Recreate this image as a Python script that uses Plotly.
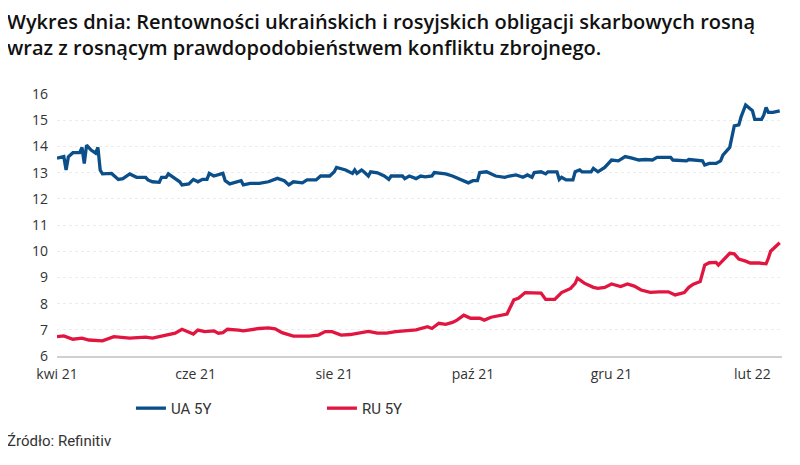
import plotly.graph_objects as go

# ---- data ----
ua_dates = [
    "2021-04-01", "2021-04-04", "2021-04-05", "2021-04-06", "2021-04-08", "2021-04-11",
    "2021-04-12", "2021-04-13", "2021-04-14", "2021-04-16", "2021-04-18", "2021-04-19",
    "2021-04-20", "2021-04-21", "2021-04-25", "2021-04-28", "2021-04-30", "2021-05-03",
    "2021-05-06", "2021-05-10", "2021-05-11", "2021-05-13", "2021-05-16", "2021-05-17",
    "2021-05-19", "2021-05-20", "2021-05-23", "2021-05-25", "2021-05-26", "2021-05-29",
    "2021-05-31", "2021-06-02", "2021-06-04", "2021-06-06", "2021-06-07", "2021-06-09",
    "2021-06-13", "2021-06-14", "2021-06-16", "2021-06-20", "2021-06-21", "2021-06-22",
    "2021-06-25", "2021-06-29", "2021-07-03", "2021-07-07", "2021-07-10", "2021-07-12",
    "2021-07-14", "2021-07-18", "2021-07-20", "2021-07-24", "2021-07-26", "2021-07-30",
    "2021-08-01", "2021-08-02", "2021-08-04", "2021-08-06", "2021-08-09", "2021-08-10",
    "2021-08-11", "2021-08-13", "2021-08-14", "2021-08-16", "2021-08-17", "2021-08-20",
    "2021-08-23", "2021-08-25", "2021-08-26", "2021-08-31", "2021-09-01", "2021-09-03",
    "2021-09-06", "2021-09-08", "2021-09-10", "2021-09-13", "2021-09-14", "2021-09-19",
    "2021-09-22", "2021-09-26", "2021-09-29", "2021-10-01", "2021-10-03", "2021-10-04",
    "2021-10-07", "2021-10-11", "2021-10-15", "2021-10-17", "2021-10-20", "2021-10-23",
    "2021-10-25", "2021-10-27", "2021-10-28", "2021-10-31", "2021-11-02", "2021-11-03",
    "2021-11-07", "2021-11-08", "2021-11-09", "2021-11-11", "2021-11-14", "2021-11-15",
    "2021-11-17", "2021-11-18", "2021-11-22", "2021-11-23", "2021-11-25", "2021-11-28",
    "2021-11-30", "2021-12-01", "2021-12-04", "2021-12-07", "2021-12-10", "2021-12-13",
    "2021-12-16", "2021-12-19", "2021-12-21", "2021-12-27", "2021-12-28", "2022-01-03",
    "2022-01-04", "2022-01-10", "2022-01-11", "2022-01-13", "2022-01-16", "2022-01-18",
    "2022-01-19", "2022-01-22", "2022-01-24", "2022-01-26", "2022-01-27", "2022-01-29",
    "2022-02-01", "2022-02-02", "2022-02-05", "2022-02-06", "2022-02-07", "2022-02-08",
    "2022-02-10", "2022-02-13",
]
ua_5y = [
    13.55, 13.61, 13.10, 13.60, 13.76, 13.76,
    13.96, 13.35, 14.05, 13.86, 13.74, 13.96,
    13.10, 12.95, 12.97, 12.74, 12.77, 12.95,
    12.82, 12.82, 12.72, 12.65, 12.63, 12.82,
    12.82, 12.95, 12.77, 12.65, 12.53, 12.57,
    12.74, 12.65, 12.74, 12.74, 12.97, 12.87,
    12.97, 12.69, 12.57, 12.65, 12.69, 12.53,
    12.59, 12.59, 12.65, 12.78, 12.69, 12.53,
    12.65, 12.61, 12.72, 12.72, 12.87, 12.87,
    13.03, 13.20, 13.16, 13.10, 12.97, 13.10,
    12.97, 13.10, 13.03, 12.87, 13.03, 12.99,
    12.87, 12.74, 12.87, 12.87, 12.77, 12.87,
    12.77, 12.87, 12.84, 12.87, 13.00, 12.95,
    12.87, 12.74, 12.61, 12.69, 12.69, 13.00,
    13.03, 12.87, 12.82, 12.87, 12.91, 12.82,
    12.91, 12.82, 13.00, 13.03, 12.95, 13.03,
    13.03, 12.74, 12.82, 12.72, 12.72, 13.03,
    13.10, 13.03, 13.03, 13.16, 13.03, 13.20,
    13.42, 13.48, 13.45, 13.61, 13.55, 13.48,
    13.50, 13.48, 13.58, 13.58, 13.48, 13.45,
    13.50, 13.45, 13.29, 13.35, 13.35, 13.45,
    13.67, 13.96, 14.78, 14.82, 15.13, 15.58,
    15.36, 15.03, 15.03, 15.20, 15.49, 15.30,
    15.30, 15.36,
]

ru_dates = [
    "2021-04-01", "2021-04-04", "2021-04-08", "2021-04-12", "2021-04-15", "2021-04-21",
    "2021-04-26", "2021-05-03", "2021-05-10", "2021-05-13", "2021-05-18", "2021-05-23",
    "2021-05-26", "2021-05-29", "2021-05-31", "2021-06-02", "2021-06-05", "2021-06-09",
    "2021-06-11", "2021-06-13", "2021-06-15", "2021-06-20", "2021-06-22", "2021-06-29",
    "2021-07-03", "2021-07-06", "2021-07-09", "2021-07-14", "2021-07-21", "2021-07-25",
    "2021-07-28", "2021-07-31", "2021-08-04", "2021-08-08", "2021-08-12", "2021-08-16",
    "2021-08-20", "2021-08-24", "2021-08-28", "2021-08-31", "2021-09-03", "2021-09-06",
    "2021-09-11", "2021-09-13", "2021-09-16", "2021-09-19", "2021-09-22", "2021-09-24",
    "2021-09-27", "2021-09-30", "2021-10-04", "2021-10-06", "2021-10-09", "2021-10-12",
    "2021-10-16", "2021-10-19", "2021-10-21", "2021-10-24", "2021-10-27", "2021-10-31",
    "2021-11-02", "2021-11-06", "2021-11-09", "2021-11-13", "2021-11-15", "2021-11-16",
    "2021-11-19", "2021-11-23", "2021-11-25", "2021-11-28", "2021-12-01", "2021-12-05",
    "2021-12-08", "2021-12-11", "2021-12-14", "2021-12-18", "2021-12-22", "2021-12-26",
    "2021-12-29", "2022-01-02", "2022-01-04", "2022-01-06", "2022-01-09", "2022-01-11",
    "2022-01-13", "2022-01-16", "2022-01-17", "2022-01-20", "2022-01-22", "2022-01-24",
    "2022-01-26", "2022-01-29", "2022-01-31", "2022-02-04", "2022-02-07", "2022-02-08",
    "2022-02-09", "2022-02-13",
]
ru_5y = [
    6.74, 6.77, 6.64, 6.68, 6.61, 6.58,
    6.74, 6.68, 6.72, 6.68, 6.78, 6.87,
    7.02, 6.93, 6.84, 6.99, 6.93, 6.96,
    6.87, 6.89, 7.02, 6.99, 6.96, 7.05,
    7.07, 7.04, 6.89, 6.76, 6.76, 6.80,
    6.93, 6.93, 6.80, 6.82, 6.87, 6.94,
    6.87, 6.87, 6.93, 6.96, 6.96, 7.00,
    7.12, 7.05, 7.25, 7.21, 7.28, 7.37,
    7.56, 7.44, 7.44, 7.37, 7.48, 7.52,
    7.60, 8.14, 8.20, 8.42, 8.42, 8.40,
    8.16, 8.16, 8.42, 8.58, 8.77, 8.97,
    8.78, 8.62, 8.58, 8.62, 8.75, 8.65,
    8.75, 8.67, 8.52, 8.43, 8.45, 8.45,
    8.33, 8.42, 8.62, 8.74, 8.84, 9.47,
    9.56, 9.57, 9.47, 9.73, 9.92, 9.90,
    9.70, 9.62, 9.55, 9.55, 9.52, 9.73,
    10.00, 10.32,
]

tick_dates = ["2021-04-01", "2021-06-01", "2021-08-01", "2021-10-01", "2021-12-01", "2022-02-01"]
tick_labels = ["kwi 21", "cze 21", "sie 21", "paź 21", "gru 21", "lut 22"]
y_ticks = [6, 7, 8, 9, 10, 11, 12, 13, 14, 15, 16]

title_line1 = "Wykres dnia: Rentowności ukraińskich i rosyjskich obligacji skarbowych rosną"
title_line2 = "wraz z rosnącym prawdopodobieństwem konfliktu zbrojnego."
source_text = "Źródło: Refinitiv"

BLUE = "#0b4f8a"
RED = "#e1153f"
FONT = "Open Sans"
NARROW = "Liberation Sans Narrow, Roboto, sans-serif"

fig = go.Figure()
fig.add_trace(go.Scatter(x=ua_dates, y=ua_5y, mode="lines", name="UA 5Y",
                         line=dict(color=BLUE, width=3.3)))
fig.add_trace(go.Scatter(x=ru_dates, y=ru_5y, mode="lines", name="RU 5Y",
                         line=dict(color=RED, width=3.3)))

# the page body adds an 8px offset, so the figure is 8px smaller on each axis
fig.update_layout(
    width=792, height=457,
    margin=dict(l=49, r=18, t=86, b=109, autoexpand=False),
    paper_bgcolor="white", plot_bgcolor="white",
    showlegend=True,
    legend=dict(orientation="h", x=0.102, xanchor="left", y=-0.2, yanchor="middle",
                font=dict(family=NARROW, size=15, color="#333333"),
                entrywidth=146, entrywidthmode="pixels", bgcolor="rgba(0,0,0,0)"),
    xaxis=dict(type="date", range=["2021-04-01", "2022-02-14"],
               tickvals=tick_dates, ticktext=tick_labels,
               showgrid=False, showline=True, linecolor="#d0d0d0", linewidth=2,
               ticks="", tickfont=dict(family=FONT, size=14, color="#333333"),
               zeroline=False, ticklabelstandoff=4),
    yaxis=dict(range=[6, 16], tickvals=y_ticks, showgrid=True, gridcolor="#ececec",
               gridwidth=1, griddash="dot", zeroline=False, showline=False, ticks="",
               tickfont=dict(family=FONT, size=14, color="#333333"), ticklabelstandoff=8),
    annotations=[
        dict(text=title_line1, xref="paper", yref="paper", x=-0.0717, y=1.275,
             xanchor="left", yanchor="middle", showarrow=False,
             font=dict(family=FONT, size=20, color="#111111", weight=600)),
        dict(text=title_line2, xref="paper", yref="paper", x=-0.0717, y=1.179,
             xanchor="left", yanchor="middle", showarrow=False,
             font=dict(family=FONT, size=20, color="#111111", weight=600)),
        dict(text=source_text, xref="paper", yref="paper", x=-0.0717, y=-0.324,
             xanchor="left", yanchor="middle", showarrow=False,
             font=dict(family=NARROW, size=15, color="#333333")),
    ],
)

fig.write_html("out.html")
